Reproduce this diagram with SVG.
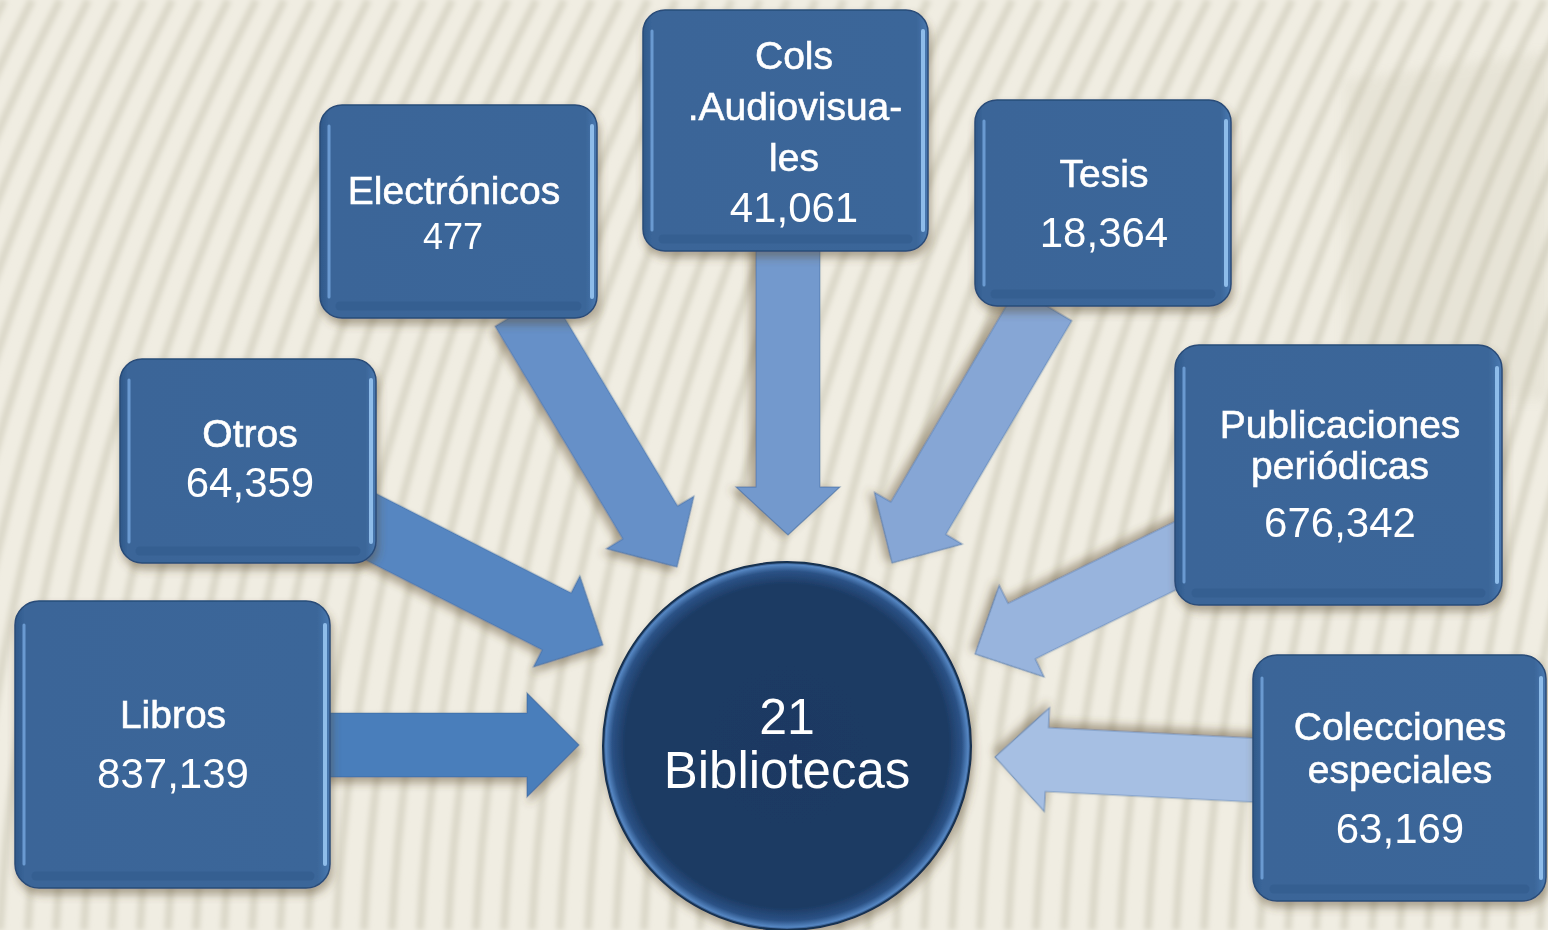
<svg xmlns="http://www.w3.org/2000/svg" width="1548" height="930" viewBox="0 0 1548 930">
<defs>
<style>
.t{font-family:"Liberation Sans",Arial,sans-serif;fill:#ffffff;text-anchor:middle}
.ti{font-size:39px;stroke:#ffffff;stroke-width:0.6}
.nu{font-size:42px}
.arr{stroke:#2f5a90;stroke-opacity:0.45;stroke-width:1.2;filter:url(#sh)}
.box{fill:url(#boxH);stroke:#294c78;stroke-width:1.5}
.hlL{stroke:#78a8e0;stroke-width:3;stroke-linecap:round;opacity:0.8}
.hlR{stroke:#9ccaf6;stroke-width:4;stroke-linecap:round;opacity:0.85}
.bot{stroke:#335c8d;stroke-width:9;stroke-linecap:round;opacity:0.6}
.stripe{fill:none;stroke:#dbd8c9;stroke-width:8}
</style>
<linearGradient id="boxH" x1="0" y1="0" x2="1" y2="0">
<stop offset="0" stop-color="#2f5889"/>
<stop offset="0.03" stop-color="#3a6598"/>
<stop offset="0.96" stop-color="#3b6699"/>
<stop offset="1" stop-color="#4a7ab2"/>
</linearGradient>
<radialGradient id="circ" cx="0.5" cy="0.5" r="0.5">
<stop offset="0" stop-color="#1c3962"/>
<stop offset="0.88" stop-color="#1d3b64"/>
<stop offset="0.95" stop-color="#2b5286"/>
<stop offset="0.985" stop-color="#5586c2"/>
<stop offset="1" stop-color="#1f3c66"/>
</radialGradient>
<filter id="sh" x="-20%" y="-20%" width="140%" height="140%">
<feDropShadow dx="2" dy="6" stdDeviation="4" flood-color="#5b4a2e" flood-opacity="0.45"/>
</filter>
<filter id="blur" x="-5%" y="-5%" width="110%" height="110%">
<feGaussianBlur stdDeviation="2.8"/>
</filter>
<filter id="blur2" x="-20%" y="-20%" width="140%" height="140%">
<feGaussianBlur stdDeviation="6"/>
</filter>
</defs>

<g id="background">
<rect x="0" y="0" width="1548" height="930" fill="#f0ede2"/>
<g filter="url(#blur)">
<path class="stripe" d="M-280,930 Q-257,465 -24,0 M-252,930 Q-229,465 4,0 M-224,930 Q-201,465 32,0 M-196,930 Q-173,465 60,0 M-168,930 Q-145,465 88,0 M-140,930 Q-117,465 116,0 M-112,930 Q-89,465 144,0 M-84,930 Q-61,465 172,0 M-56,930 Q-33,465 200,0 M-28,930 Q-5,465 228,0 M0,930 Q23,465 256,0 M28,930 Q51,465 284,0 M56,930 Q79,465 312,0 M84,930 Q107,465 340,0 M112,930 Q135,465 368,0 M140,930 Q163,465 396,0 M168,930 Q191,465 424,0 M196,930 Q219,465 452,0 M224,930 Q247,465 480,0 M252,930 Q275,465 508,0 M280,930 Q303,465 536,0 M308,930 Q331,465 564,0 M336,930 Q359,465 592,0 M364,930 Q387,465 620,0 M392,930 Q415,465 648,0 M420,930 Q443,465 676,0 M448,930 Q471,465 704,0 M476,930 Q499,465 732,0 M504,930 Q527,465 760,0 M532,930 Q555,465 788,0 M560,930 Q583,465 816,0 M588,930 Q611,465 844,0 M616,930 Q639,465 872,0 M644,930 Q667,465 900,0 M672,930 Q695,465 928,0 M700,930 Q723,465 956,0 M728,930 Q751,465 984,0 M756,930 Q779,465 1012,0 M784,930 Q807,465 1040,0 M812,930 Q835,465 1068,0 M840,930 Q863,465 1096,0 M868,930 Q891,465 1124,0 M896,930 Q919,465 1152,0 M924,930 Q947,465 1180,0 M952,930 Q975,465 1208,0 M980,930 Q1003,465 1236,0 M1008,930 Q1031,465 1264,0 M1036,930 Q1059,465 1292,0 M1064,930 Q1087,465 1320,0 M1092,930 Q1115,465 1348,0 M1120,930 Q1143,465 1376,0 M1148,930 Q1171,465 1404,0 M1176,930 Q1199,465 1432,0 M1204,930 Q1227,465 1460,0 M1232,930 Q1255,465 1488,0 M1260,930 Q1283,465 1516,0 M1288,930 Q1311,465 1544,0 M1316,930 Q1339,465 1572,0 M1344,930 Q1367,465 1600,0 M1372,930 Q1395,465 1628,0 M1400,930 Q1423,465 1656,0 M1428,930 Q1451,465 1684,0 M1456,930 Q1479,465 1712,0 M1484,930 Q1507,465 1740,0 M1512,930 Q1535,465 1768,0 M1540,930 Q1563,465 1796,0"/>
</g>
<polygon points="1345,80 1548,52 1548,400 1345,400" fill="#b8b39a" opacity="0.14" filter="url(#blur2)"/>
</g>

<g id="connectors">
<polygon id="arr-libros" class="arr" fill="#4a7ebb" transform="translate(579,745) rotate(0)" points="-262,-32 -52,-32 -52,-52 0,0 -52,52 -52,32 -262,32"/>
<polygon id="arr-otros" class="arr" fill="#5786c1" transform="translate(603,645) rotate(27)" points="-280,-32 -52,-32 -52,-51 0,0 -52,51 -52,32 -280,32"/>
<polygon id="arr-electronicos" class="arr" fill="#6690c8" transform="translate(677,567) rotate(59)" points="-300,-32 -52,-32 -52,-51 0,0 -52,51 -52,32 -300,32"/>
<polygon id="arr-cols" class="arr" fill="#7399cd" transform="translate(788,535) rotate(90)" points="-292,-32 -48,-32 -48,-52 0,0 -48,52 -48,32 -292,32"/>
<polygon id="arr-tesis" class="arr" fill="#86a6d5" transform="translate(892,563) rotate(120.5)" points="-300,-32 -52,-32 -52,-51 0,0 -52,51 -52,32 -300,32"/>
<polygon id="arr-publicaciones" class="arr" fill="#98b4dd" transform="translate(975,654) rotate(153.9)" points="-250,-31 -52,-31 -52,-51 0,0 -52,51 -52,31 -250,31"/>
<polygon id="arr-colecciones" class="arr" fill="#a6bfe3" transform="translate(995,757) rotate(182.9)" points="-290,-32 -52,-32 -52,-52 0,0 -52,52 -52,32 -290,32"/>
</g>

<g id="node-libros" filter="url(#sh)">
<rect class="box" x="15" y="601" width="315" height="287" rx="24"/>
<line class="hlL" x1="24" y1="625" x2="24" y2="864"/>
<line class="hlR" x1="325" y1="625" x2="325" y2="864"/>
<line class="bot" x1="36" y1="876" x2="310" y2="876"/>
<text class="t ti" x="173" y="728">Libros</text>
<text class="t nu" x="173" y="788">837,139</text>
</g>

<g id="node-otros" filter="url(#sh)">
<rect class="box" x="120" y="359" width="256" height="204" rx="22"/>
<line class="hlL" x1="129" y1="380" x2="129" y2="542"/>
<line class="hlR" x1="371" y1="380" x2="371" y2="542"/>
<line class="bot" x1="140" y1="551" x2="356" y2="551"/>
<text class="t ti" x="250" y="447">Otros</text>
<text class="t nu" x="250" y="497">64,359</text>
</g>

<g id="node-electronicos" filter="url(#sh)">
<rect class="box" x="320" y="105" width="277" height="213" rx="22"/>
<line class="hlL" x1="329" y1="126" x2="329" y2="297"/>
<line class="hlR" x1="592" y1="126" x2="592" y2="297"/>
<line class="bot" x1="340" y1="306" x2="577" y2="306"/>
<text class="t ti" x="454" y="204">Electrónicos</text>
<text class="t nu" x="453" y="249" style="font-size:36px">477</text>
</g>

<g id="node-cols" filter="url(#sh)">
<rect class="box" x="643" y="10" width="285" height="241" rx="22"/>
<line class="hlL" x1="652" y1="31" x2="652" y2="230"/>
<line class="hlR" x1="923" y1="31" x2="923" y2="230"/>
<line class="bot" x1="663" y1="239" x2="908" y2="239"/>
<text class="t ti" x="794" y="69">Cols</text>
<text class="t ti" x="795" y="120">.Audiovisua-</text>
<text class="t ti" x="794" y="171">les</text>
<text class="t nu" x="794" y="222">41,061</text>
</g>

<g id="node-tesis" filter="url(#sh)">
<rect class="box" x="975" y="100" width="256" height="206" rx="22"/>
<line class="hlL" x1="984" y1="121" x2="984" y2="285"/>
<line class="hlR" x1="1226" y1="121" x2="1226" y2="285"/>
<line class="bot" x1="995" y1="294" x2="1211" y2="294"/>
<text class="t ti" x="1104" y="187">Tesis</text>
<text class="t nu" x="1104" y="247">18,364</text>
</g>

<g id="node-publicaciones" filter="url(#sh)">
<rect class="box" x="1175" y="345" width="327" height="260" rx="24"/>
<line class="hlL" x1="1184" y1="368" x2="1184" y2="582"/>
<line class="hlR" x1="1497" y1="368" x2="1497" y2="582"/>
<line class="bot" x1="1196" y1="593" x2="1481" y2="593"/>
<text class="t ti" x="1340" y="438">Publicaciones</text>
<text class="t ti" x="1340" y="479">periódicas</text>
<text class="t nu" x="1340" y="537">676,342</text>
</g>

<g id="node-colecciones" filter="url(#sh)">
<rect class="box" x="1253" y="655" width="293" height="246" rx="24"/>
<line class="hlL" x1="1262" y1="678" x2="1262" y2="878"/>
<line class="hlR" x1="1541" y1="678" x2="1541" y2="878"/>
<line class="bot" x1="1274" y1="889" x2="1525" y2="889"/>
<text class="t ti" x="1400" y="740">Colecciones</text>
<text class="t ti" x="1400" y="783">especiales</text>
<text class="t nu" x="1400" y="843">63,169</text>
</g>

<g id="node-bibliotecas" filter="url(#sh)">
<circle cx="787" cy="746" r="184" fill="url(#circ)" stroke="#16304f" stroke-width="2"/>
<text class="t" x="787" y="734" style="font-size:50px">21</text>
<text class="t" x="787" y="788" style="font-size:51px">Bibliotecas</text>
</g>
</svg>
